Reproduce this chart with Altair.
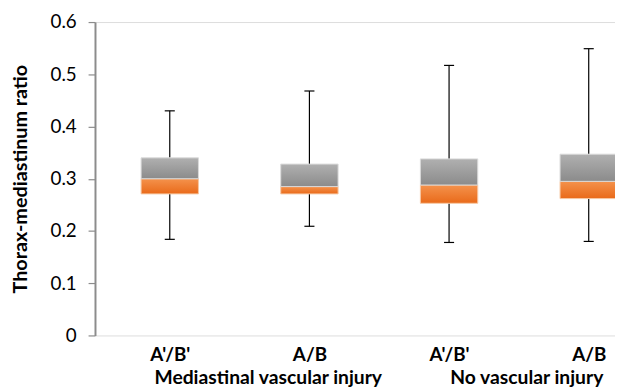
import json
import altair as alt
import pandas as pd

# ---- data ----
cats = ["A'/B'", "A/B", "A'/B'", "A/B"]
groups = ["Mediastinal vascular injury", "Mediastinal vascular injury",
          "No vascular injury", "No vascular injury"]
mins = [0.184, 0.209, 0.178, 0.180]
q1 = [0.271, 0.271, 0.253, 0.262]
med = [0.300, 0.285, 0.288, 0.295]
q3 = [0.340, 0.328, 0.338, 0.347]
maxs = [0.430, 0.468, 0.517, 0.549]
y_ticks = [0, 0.1, 0.2, 0.3, 0.4, 0.5, 0.6]
group_names = ["Mediastinal vascular injury", "No vascular injury"]

df = pd.DataFrame({
    "cat": cats, "group": groups, "min": mins, "q1": q1,
    "med": med, "q3": q3, "max": maxs,
})
df["pos"] = df.index + 0.5

W, H = 526, 317
FONT = "Lato"

xscale = alt.Scale(domain=[0, W / 144], nice=False, zero=False)
yscale = alt.Scale(domain=[0, 0.6], nice=False)

label_expr = json.dumps(cats) + "[floor(datum.value)]"

x_enc = alt.X("pos:Q", scale=xscale, axis=alt.Axis(
    values=[0.5, 1.5, 2.5, 3.5], labelExpr=label_expr, domain=False,
    ticks=False, grid=False, title=None, labelFontWeight="bold",
    labelFontSize=19, labelFont=FONT, labelColor="#000000", labelPadding=10,
    labelFlush=False))
y_axis = alt.Axis(values=y_ticks, format=".1~f", grid=False,
                  title="Thorax-mediastinum ratio", titleFont=FONT,
                  titleFontSize=20, titleFontWeight="bold", titleColor="#000000",
                  titlePadding=20, labelFont=FONT, labelFontSize=19,
                  labelColor="#000000", labelPadding=12, tickSize=7,
                  tickColor="#8c8c8c", domainColor="#8c8c8c", domainWidth=2,
                  tickWidth=1.2)

base = alt.Chart(df)

orange = alt.Gradient(gradient="linear", x1=0, x2=0, y1=0, y2=1, stops=[
    alt.GradientStop(color="#f4924c", offset=0),
    alt.GradientStop(color="#e96a1a", offset=1)])
gray = alt.Gradient(gradient="linear", x1=0, x2=0, y1=0, y2=1, stops=[
    alt.GradientStop(color="#b0b0b0", offset=0),
    alt.GradientStop(color="#8b8b8b", offset=1)])

whisk_hi = base.mark_rule(color="#000000", strokeWidth=1.2).encode(
    x=x_enc, y=alt.Y("q3:Q", scale=yscale, axis=y_axis), y2="max:Q")
whisk_lo = base.mark_rule(color="#000000", strokeWidth=1.2).encode(
    x="pos:Q", y="min:Q", y2="q1:Q")
cap_hi = base.transform_calculate(cl="datum.pos-0.036", cr="datum.pos+0.036").mark_rule(
    color="#000000", strokeWidth=1.2).encode(x="cl:Q", x2="cr:Q", y="max:Q")
cap_lo = base.transform_calculate(cl="datum.pos-0.036", cr="datum.pos+0.036").mark_rule(
    color="#000000", strokeWidth=1.2).encode(x="cl:Q", x2="cr:Q", y="min:Q")

box_lo = base.mark_bar(size=58, fill=orange, stroke="#f6c7a3", strokeWidth=1,
                       clip=True).encode(x="pos:Q", y="q1:Q", y2="med:Q")
box_hi = base.mark_bar(size=58, fill=gray, stroke="#dadada", strokeWidth=1,
                       clip=True).encode(x="pos:Q", y="med:Q", y2="q3:Q")

glabels = []
for g, dx in zip(group_names, [29, 8]):
    glabels.append(
        base.transform_filter(alt.datum.group == g)
        .transform_aggregate(center="mean(pos)", groupby=["group"])
        .mark_text(font=FONT, fontSize=19.5, fontWeight="bold", color="#000000",
                   baseline="alphabetic", align="center", dx=dx)
        .encode(x="center:Q", y=alt.value(H + 49), text="group:N"))

chart = alt.layer(whisk_hi, whisk_lo, cap_hi, cap_lo, box_lo, box_hi, *glabels).properties(
    width=W, height=H,
    autosize=alt.AutoSizeParams(type="none"),
    padding={"left": 88, "top": 12, "right": 0, "bottom": 55},
).configure_view(stroke=None).configure(background="#ffffff")

chart.save("out.html", embed_options={"renderer": "svg", "actions": False})
